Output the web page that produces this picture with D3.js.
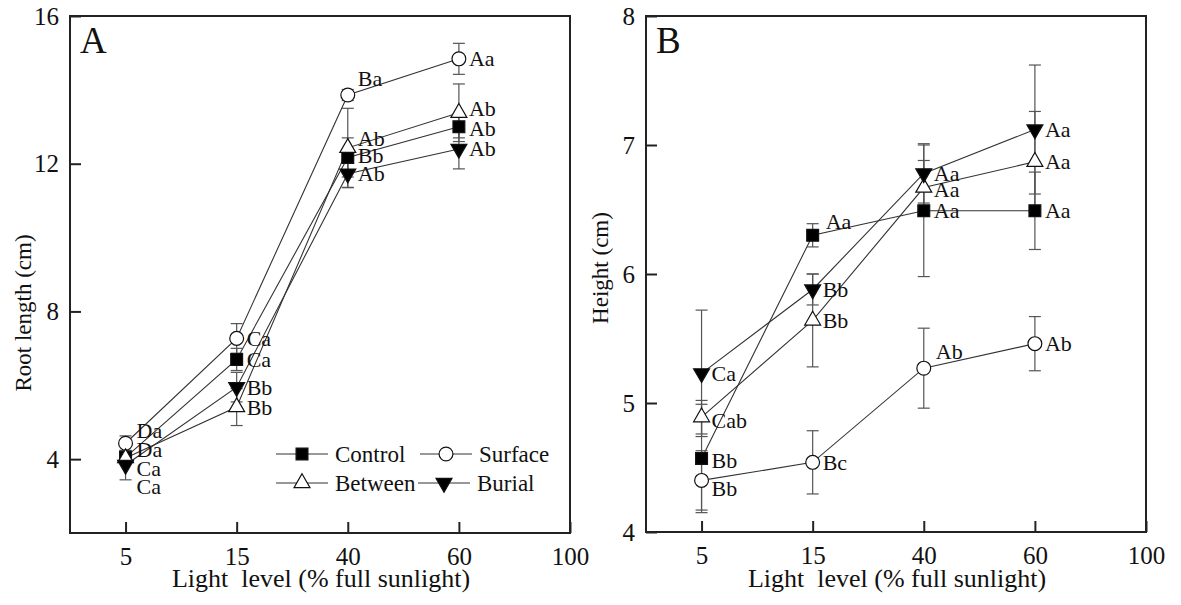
<!DOCTYPE html>
<html>
<head>
<meta charset="utf-8">
<script src="https://cdn.jsdelivr.net/npm/d3@7"></script>
<style>
body{margin:0;background:#fff}
svg text{font-family:"Liberation Serif","Times New Roman",Times,"DejaVu Serif",serif;fill:#111}
</style>
</head>
<body>
<svg id="canvas" width="1181" height="605"></svg>
<script>
let lightLevels = ['5', '15', '40', '60', '100']
let seriesNames = ['Control', 'Surface', 'Between', 'Burial']

// panel A - root length (cm)
let rootControl = [4.05, 6.70, 12.17, 13.00]
let rootSurface = [4.43, 7.27, 13.86, 14.84]
let rootBetween = [4.03, 5.41, 12.43, 13.38]
let rootBurial  = [3.84, 5.95, 11.73, 12.40]
let rootControlSE = [0.15, 0.30, 0.53, 0.30]
let rootSurfaceSE = [0.20, 0.40, 0.15, 0.42]
let rootBetweenSE = [0.15, 0.50, 1.07, 0.78]
let rootBurialSE  = [0.40, 0.40, 0.38, 0.54]
let rootControlLetters = ['Da', 'Ca', 'Bb', 'Ab']
let rootSurfaceLetters = ['Da', 'Ca', 'Ba', 'Aa']
let rootBetweenLetters = ['Ca', 'Bb', 'Ab', 'Ab']
let rootBurialLetters  = ['Ca', 'Bb', 'Ab', 'Ab']
let rootTicks = [4, 8, 12, 16]

// panel B - height (cm)
let heightControl = [4.57, 6.30, 6.49, 6.49]
let heightSurface = [4.40, 4.54, 5.27, 5.46]
let heightBetween = [4.89, 5.64, 6.67, 6.87]
let heightBurial  = [5.23, 5.88, 6.78, 7.12]
let heightControlSE = [0.42, 0.09, 0.51, 0.30]
let heightSurfaceSE = [0.23, 0.245, 0.31, 0.21]
let heightBetweenSE = [0.13, 0.36, 0.21, 0.39]
let heightBurialSE  = [0.49, 0.12, 0.23, 0.50]
let heightControlLetters = ['Bb', 'Aa', 'Aa', 'Aa']
let heightSurfaceLetters = ['Bb', 'Bc', 'Ab', 'Ab']
let heightBetweenLetters = ['Cab', 'Bb', 'Aa', 'Aa']
let heightBurialLetters  = ['Ca', 'Bb', 'Aa', 'Aa']
let heightTicks = [4, 5, 6, 7, 8]

let serif = '"Liberation Serif","Times New Roman",Times,"DejaVu Serif",serif'
let canvas = d3.select('#canvas')

let markers = {
    Control: {type: d3.symbolSquare, size: 140, fill: '#000', rot: 0},
    Surface: {type: d3.symbolCircle, size: 150, fill: '#fff', rot: 0},
    Between: {type: d3.symbolTriangle, size: 110, fill: '#fff', rot: 0},
    Burial:  {type: d3.symbolTriangle, size: 110, fill: '#000', rot: 180}
}

// label nudges (dx, dy) so the letters do not sit on top of each other
let nudgeA = {
    Control: [[11, -8], [10, 0], [10, -2], [10, 2]],
    Surface: [[11, -13], [10, 0], [10, -17], [10, 0]],
    Between: [[11, 10], [10, 0], [10, -9], [10, -4]],
    Burial:  [[11, 21], [10, 0], [10, 0], [10, 0]]
}
let nudgeB = {
    Control: [[10, 2], [13, -14], [10, 0], [10, 0]],
    Surface: [[10, 8], [10, 0], [12, -17], [10, 0]],
    Between: [[10, 3], [10, 0], [10, 2], [10, 0]],
    Burial:  [[10, 0], [10, 0], [10, 0], [10, 0]]
}

let drawPanel = (p) => {
    let g = canvas.append('g')
    let x = d3.scaleLinear().domain([-0.5, 4]).range([p.left, p.left + 500])
    let y = d3.scaleLinear().domain(p.yDomain).range([p.bottom, 16])

    // axes with inward ticks
    g.append('g')
     .attr('transform', `translate(0,${p.bottom})`)
     .call(d3.axisBottom(x).tickValues([0, 1, 2, 3, 4])
        .tickFormat((d) => lightLevels[d]).tickSizeInner(-11).tickSizeOuter(0).tickPadding(14))
    g.append('g')
     .attr('transform', `translate(${p.left},0)`)
     .call(d3.axisLeft(y).tickValues(p.ticks).tickFormat(d3.format('d'))
        .tickSizeInner(-11).tickSizeOuter(0).tickPadding(11))
    g.selectAll('.domain').remove()
    g.selectAll('.tick line').attr('stroke', '#222').attr('stroke-width', 2)
    g.selectAll('g').attr('font-family', serif)
    g.selectAll('.tick text').style('font-size', '25px').attr('fill', '#111')

    g.append('rect')
     .attr('x', p.left).attr('y', 16)
     .attr('width', 500).attr('height', p.bottom - 16)
     .attr('fill', 'none').attr('stroke', '#222').attr('stroke-width', 2)

    let line = d3.line().x((d, i) => x(i)).y((d) => y(d))

    p.series.forEach((s) => {
        g.append('path')
         .attr('d', line(s.values))
         .attr('fill', 'none').attr('stroke', '#333').attr('stroke-width', 1.1)
    })

    p.series.forEach((s) => {
        s.values.forEach((v, i) => {
            let e = s.se[i]
            let eb = g.append('g').attr('stroke', '#555').attr('stroke-width', 1.2)
            eb.append('line').attr('x1', x(i)).attr('x2', x(i)).attr('y1', y(v - e)).attr('y2', y(v + e))
            eb.append('line').attr('x1', x(i) - 6).attr('x2', x(i) + 6).attr('y1', y(v - e)).attr('y2', y(v - e))
            eb.append('line').attr('x1', x(i) - 6).attr('x2', x(i) + 6).attr('y1', y(v + e)).attr('y2', y(v + e))
        })
    })

    p.series.forEach((s) => {
        let m = markers[s.name]
        g.selectAll(null)
         .data(s.values)
         .enter()
         .append('path')
         .attr('d', d3.symbol().type(m.type).size(m.size))
         .attr('transform', (d, i) => `translate(${x(i)},${y(d)}) rotate(${m.rot})`)
         .attr('fill', m.fill).attr('stroke', '#111').attr('stroke-width', 1.2)
    })

    p.series.forEach((s) => {
        g.selectAll(null)
         .data(s.values)
         .enter()
         .append('text')
         .attr('x', (d, i) => x(i) + p.nudge[s.name][i][0])
         .attr('y', (d, i) => y(d) + p.nudge[s.name][i][1])
         .attr('dominant-baseline', 'central')
         .attr('font-family', serif)
         .style('font-size', '22px')
         .text((d, i) => s.letters[i])
    })

    g.append('text')
     .attr('x', p.left + 10).attr('y', 53)
     .attr('font-family', serif)
     .style('font-size', '37px')
     .text(p.tag)

    g.append('text')
     .attr('x', p.left + 251).attr('y', 587)
     .attr('text-anchor', 'middle')
     .attr('font-family', serif)
     .style('font-size', '26px').style('white-space', 'pre')
     .text('Light  level (% full sunlight)')

    g.append('text')
     .attr('transform', `translate(${p.titleX},${p.titleY}) rotate(-90)`)
     .attr('text-anchor', 'middle')
     .attr('font-family', serif)
     .style('font-size', '23px')
     .text(p.yTitle)

    return {g, x, y}
}

let panelA = drawPanel({
    left: 70, bottom: 533, yDomain: [2, 16], ticks: rootTicks, tag: 'A',
    yTitle: 'Root length (cm)', titleX: 31, titleY: 313, nudge: nudgeA,
    series: [
        {name: 'Control', values: rootControl, se: rootControlSE, letters: rootControlLetters},
        {name: 'Surface', values: rootSurface, se: rootSurfaceSE, letters: rootSurfaceLetters},
        {name: 'Between', values: rootBetween, se: rootBetweenSE, letters: rootBetweenLetters},
        {name: 'Burial', values: rootBurial, se: rootBurialSE, letters: rootBurialLetters}
    ]
})

drawPanel({
    left: 646, bottom: 532, yDomain: [4, 8], ticks: heightTicks, tag: 'B',
    yTitle: 'Height (cm)', titleX: 608, titleY: 268, nudge: nudgeB,
    series: [
        {name: 'Control', values: heightControl, se: heightControlSE, letters: heightControlLetters},
        {name: 'Surface', values: heightSurface, se: heightSurfaceSE, letters: heightSurfaceLetters},
        {name: 'Between', values: heightBetween, se: heightBetweenSE, letters: heightBetweenLetters},
        {name: 'Burial', values: heightBurial, se: heightBurialSE, letters: heightBurialLetters}
    ]
})

// legend inside panel A
let legend = panelA.g.append('g')
let legendPos = [[276, 454], [420, 454], [276, 483], [418, 483]]
seriesNames.forEach((name, i) => {
    let [lx, ly] = legendPos[i]
    let m = markers[name]
    legend.append('line').attr('x1', lx).attr('x2', lx + 52).attr('y1', ly).attr('y2', ly)
          .attr('stroke', '#333').attr('stroke-width', 1.1)
    legend.append('path')
          .attr('d', d3.symbol().type(m.type).size(m.size))
          .attr('transform', `translate(${lx + 26},${ly}) rotate(${m.rot})`)
          .attr('fill', m.fill).attr('stroke', '#111').attr('stroke-width', 1.2)
    legend.append('text')
          .attr('x', lx + 59).attr('y', ly)
          .attr('dominant-baseline', 'central')
          .attr('font-family', serif)
          .style('font-size', '23px')
          .text(name)
})
</script>
</body>
</html>
